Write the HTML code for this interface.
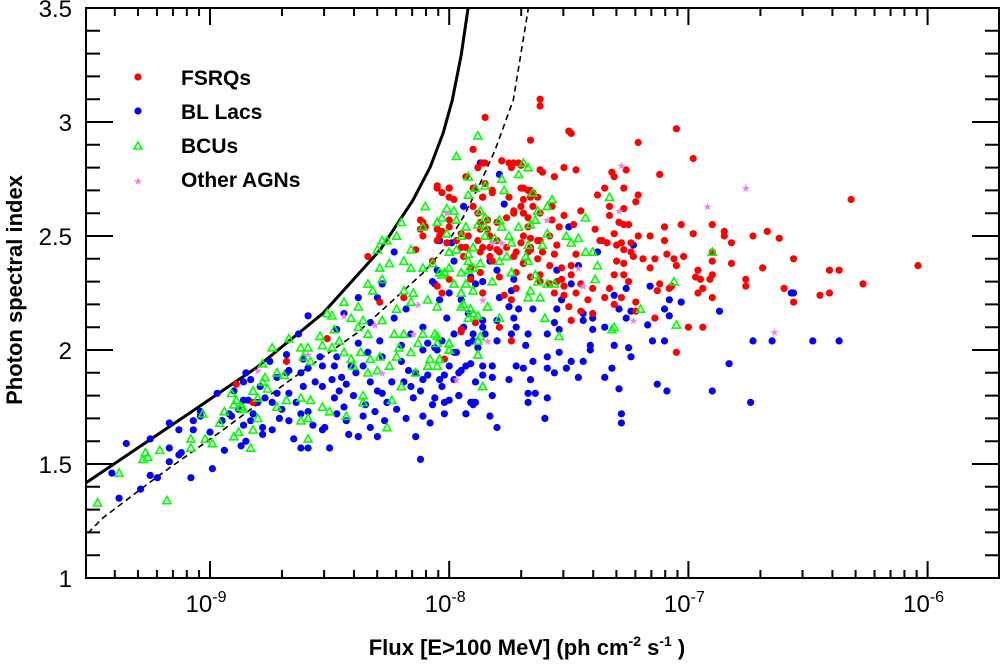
<!DOCTYPE html>
<html><head><meta charset="utf-8"><style>
html,body{margin:0;padding:0;background:#fff;}
svg{display:block;font-family:"Liberation Sans",Arial,sans-serif;}
</style></head><body>
<svg id="chart" width="1000" height="665" viewBox="0 0 1000 665" xmlns="http://www.w3.org/2000/svg">
<g id="curves"></g>
<g id="points"></g>
<g id="axes"></g>
<g id="legend">
  <circle cx="138" cy="77" r="3.6" fill="#ff0000"/>
  <text x="181" y="85" font-size="21" font-weight="bold">FSRQs</text>
  <circle cx="138" cy="111" r="3.6" fill="#0000ff"/>
  <text x="181" y="119" font-size="21" font-weight="bold">BL Lacs</text>
  <polygon points="138,142 142,149 134,149" fill="none" stroke="#00ff00" stroke-width="1.6"/>
  <text x="181" y="153" font-size="21" font-weight="bold">BCUs</text>
  <text x="138" y="185" font-size="11" fill="#ee82ee" text-anchor="middle">★</text>
  <text x="181" y="187" font-size="21" font-weight="bold">Other AGNs</text>
</g>
<text x="0" y="0" transform="translate(22,290) rotate(-90)" font-size="22" font-weight="bold" text-anchor="middle">Photon spectral index</text>
<text x="527" y="655" font-size="22" font-weight="bold" text-anchor="middle">Flux [E&gt;100 MeV] (ph cm<tspan dy="-9" font-size="14">-2</tspan><tspan dy="9"> s</tspan><tspan dy="-9" font-size="14">-1</tspan><tspan dy="9"> )</tspan></text>
</svg>
<script>
// data: [log10 flux, photon index]
const fsrqData=[[-7.62,3.10],[-7.62,3.07],[-7.85,3.02],[-7.05,2.97],[-7.50,2.96],[-7.49,2.95],[-7.66,2.92],[-7.21,2.91],[-7.90,2.88],[-6.98,2.84],[-7.12,2.77],[-7.26,2.79],[-7.32,2.78],[-7.31,2.76],[-6.56,2.40],[-6.41,2.35],[-6.41,2.25],[-6.60,2.27],[-6.56,2.21],[-6.69,2.36],[-6.73,2.50],[-6.85,2.52],[-6.85,2.50],[-6.82,2.47],[-6.82,2.38],[-6.76,2.31],[-6.76,2.28],[-6.90,2.55],[-6.90,2.43],[-6.90,2.39],[-6.90,2.33],[-7.00,2.10],[-6.94,2.10],[-7.05,1.99],[-7.14,2.14],[-6.98,2.51],[-7.03,2.55],[-7.10,2.54],[-7.10,2.48],[-7.16,2.50],[-7.16,2.36],[-7.09,2.42],[-7.05,2.37],[-7.02,2.41],[-6.96,2.35],[-6.97,2.32],[-6.95,2.31],[-6.91,2.31],[-6.96,2.25],[-6.94,2.27],[-6.90,2.23],[-7.12,2.29],[-7.08,2.27],[-7.07,2.28],[-7.13,2.26],[-7.21,2.50],[-7.23,2.41],[-7.19,2.40],[-7.14,2.40],[-7.06,2.40],[-7.21,2.68],[-7.22,2.65],[-7.27,2.62],[-7.27,2.71],[-7.35,2.71],[-7.38,2.68],[-7.33,2.63],[-7.33,2.59],[-7.29,2.56],[-7.27,2.55],[-7.25,2.55],[-7.31,2.51],[-7.28,2.47],[-7.27,2.44],[-7.30,2.39],[-7.27,2.38],[-7.31,2.33],[-7.27,2.33],[-7.25,2.30],[-7.24,2.43],[-7.33,2.27],[-7.31,2.20],[-7.35,2.23],[-7.28,2.23],[-7.22,2.21],[-7.22,2.17],[-7.47,2.79],[-7.52,2.80],[-7.56,2.76],[-7.62,2.79],[-7.52,2.59],[-7.48,2.55],[-7.45,2.61],[-7.39,2.53],[-7.37,2.48],[-7.36,2.48],[-7.34,2.47],[-7.30,2.46],[-7.24,2.47],[-7.47,2.42],[-7.49,2.37],[-7.49,2.33],[-7.45,2.29],[-7.40,2.27],[-7.42,2.22],[-7.40,2.16],[-7.45,2.17],[-7.49,2.13],[-7.50,2.19],[-7.47,2.25],[-7.52,2.24],[-7.56,2.25],[-7.52,2.28],[-7.57,2.63],[-7.62,2.60],[-7.57,2.57],[-7.54,2.54],[-7.58,2.50],[-7.62,2.48],[-7.55,2.46],[-7.61,2.43],[-7.58,2.37],[-7.56,2.42],[-7.53,2.36],[-7.62,2.33],[-7.53,2.31],[-7.55,2.30],[-7.62,2.30],[-7.58,2.29],[-7.75,2.82],[-7.70,2.81],[-7.78,2.83],[-7.69,2.71],[-7.66,2.70],[-7.66,2.67],[-7.70,2.63],[-7.73,2.60],[-7.76,2.58],[-7.67,2.54],[-7.66,2.49],[-7.69,2.50],[-7.72,2.43],[-7.66,2.44],[-7.63,2.40],[-7.69,2.38],[-7.66,2.32],[-7.72,2.34],[-7.74,2.22],[-7.74,2.04],[-7.79,2.10],[-7.77,2.24],[-7.72,2.27],[-7.85,2.82],[-7.88,2.80],[-7.85,2.73],[-7.82,2.70],[-7.86,2.67],[-7.90,2.63],[-7.88,2.60],[-7.84,2.57],[-7.87,2.53],[-7.83,2.50],[-7.86,2.45],[-7.80,2.44],[-7.82,2.39],[-7.87,2.34],[-7.79,2.32],[-7.86,2.25],[-7.91,2.31],[-8.00,2.31],[-8.03,2.25],[-8.05,2.28],[-8.05,2.71],[-8.00,2.71],[-7.98,2.66],[-7.93,2.76],[-7.92,2.50],[-7.95,2.45],[-8.03,2.52],[-8.05,2.48],[-8.07,2.39],[-7.94,2.41],[-7.91,2.36],[-7.95,2.09],[-8.11,2.56],[-8.12,2.53],[-8.05,2.53],[-8.00,2.57],[-8.00,2.67],[-8.03,2.69],[-7.61,2.78],[-8.34,2.41],[-7.71,2.82],[-8.68,1.95],[-8.82,1.77],[-8.89,1.85],[-8.51,2.05],[-8.29,2.21],[-7.95,2.08],[-7.89,2.12],[-8.02,1.96],[-8.14,2.44],[-8.19,2.23],[-6.04,2.37],[-6.32,2.66],[-6.37,2.35],[-6.27,2.29],[-6.45,2.24],[-6.62,2.49],[-6.67,2.52],
[-7.86,2.82],[-7.78,2.83],[-7.74,2.80],[-7.73,2.82],[-8.05,2.72],[-8.00,2.71],[-7.90,2.71],[-7.86,2.67],[-7.82,2.69],[-7.70,2.71],[-7.67,2.70],[-7.65,2.69],[-7.75,2.67],[-7.69,2.66],[-7.63,2.67],[-8.12,2.57],[-8.10,2.54],[-8.11,2.50],[-8.04,2.50],[-8.01,2.47],[-7.97,2.48],[-7.93,2.45],[-7.88,2.48],[-7.83,2.45],[-7.80,2.48],[-7.76,2.45],[-7.70,2.47],[-7.66,2.45],[-7.63,2.48],[-7.87,2.43],[-7.83,2.41],[-7.79,2.43],[-7.73,2.41],[-7.67,2.43],[-7.73,2.61],[-7.69,2.60],[-7.67,2.58],[-7.65,2.63],[-7.87,2.56],[-7.84,2.53],[-7.80,2.56],[-8.00,2.54],[-7.95,2.51]];
const bllacData=[[-9.35,1.59],[-9.41,1.46],[-9.38,1.35],[-9.29,1.39],[-9.25,1.45],[-9.22,1.44],[-9.08,1.44],[-8.99,1.48],[-9.17,1.57],[-9.17,1.51],[-9.13,1.54],[-9.12,1.55],[-9.25,1.61],[-9.17,1.68],[-9.13,1.65],[-9.07,1.65],[-9.00,1.64],[-8.95,1.69],[-8.91,1.71],[-9.04,1.71],[-8.86,1.67],[-8.83,1.69],[-8.87,1.58],[-8.85,1.60],[-8.94,1.56],[-8.97,1.81],[-8.86,1.78],[-8.82,1.72],[-8.78,1.66],[-8.74,1.65],[-8.78,1.63],[-8.71,1.70],[-8.67,1.69],[-8.62,1.72],[-8.59,1.73],[-8.65,1.61],[-8.62,1.57],[-8.59,1.57],[-8.50,1.57],[-8.53,1.65],[-8.52,1.66],[-8.47,1.72],[-8.44,1.75],[-8.43,1.69],[-8.38,1.62],[-8.36,1.71],[-8.33,1.66],[-8.30,1.62],[-8.26,1.77],[-8.19,1.86],[-8.16,1.84],[-8.12,1.82],[-8.11,1.87],[-8.11,1.71],[-8.12,1.52],[-8.06,1.79],[-8.03,1.84],[-8.00,1.78],[-7.96,1.80],[-7.93,1.72],[-7.91,1.77],[-7.89,1.77],[-7.86,1.93],[-7.91,1.94],[-7.95,1.91],[-7.98,1.87],[-8.02,1.89],[-8.09,1.89],[-8.14,1.90],[-8.15,1.79],[-8.17,1.91],[-8.30,1.82],[-8.28,1.81],[-8.26,1.77],[-8.33,1.86],[-8.36,1.93],[-8.39,1.90],[-8.41,1.93],[-8.43,1.85],[-8.46,1.82],[-8.48,1.79],[-8.53,1.84],[-8.49,1.87],[-8.59,1.92],[-8.61,1.84],[-8.62,1.90],[-8.67,1.91],[-8.68,1.98],[-8.67,1.81],[-8.72,1.81],[-8.74,1.77],[-8.77,1.79],[-8.84,1.78],[-8.88,1.74],[-8.59,2.15],[-8.44,2.16],[-8.38,2.23],[-8.30,2.23],[-8.23,2.43],[-8.28,2.29],[-8.23,2.14],[-8.18,2.18],[-8.16,2.07],[-8.11,2.10],[-8.07,2.30],[-8.04,2.22],[-8.01,2.14],[-7.98,2.07],[-7.92,2.03],[-7.97,1.99],[-8.05,2.00],[-8.09,2.03],[-7.86,2.10],[-7.90,2.07],[-8.11,2.00],[-8.29,2.04],[-8.28,1.97],[-8.34,1.99],[-8.38,2.03],[-8.47,1.97],[-8.54,1.97],[-8.53,1.93],[-8.61,1.96],[-8.68,1.90],[-8.72,1.88],[-8.79,1.84],[-8.83,1.87],[-8.86,1.86],[-8.80,1.77],[-8.92,1.72],[-8.95,1.69],[-9.04,1.73],[-9.07,1.69],[-8.85,1.90],[-7.87,2.82],[-7.79,2.77],[-7.94,2.63],[-7.77,2.64],[-7.50,2.54],[-7.23,2.46],[-7.38,2.43],[-7.46,2.37],[-7.55,2.35],[-7.69,2.38],[-7.80,2.35],[-7.86,2.30],[-7.73,2.31],[-7.16,2.28],[-7.26,2.27],[-7.49,2.29],[-6.56,2.25],[-6.87,2.17],[-7.03,2.21],[-7.08,2.22],[-7.10,2.18],[-7.08,2.15],[-7.17,2.11],[-7.24,2.17],[-7.26,2.14],[-7.31,2.24],[-7.29,2.18],[-7.35,2.10],[-7.40,2.09],[-7.44,2.16],[-7.44,2.13],[-7.40,2.14],[-7.53,2.22],[-7.55,2.18],[-7.56,2.12],[-7.54,2.09],[-7.59,2.07],[-7.67,2.07],[-7.68,2.02],[-7.74,2.07],[-7.80,2.04],[-7.72,2.10],[-7.73,2.14],[-7.75,2.19],[-7.71,2.18],[-7.65,2.18],[-7.59,1.97],[-7.54,1.99],[-7.49,1.95],[-7.44,1.95],[-7.41,2.00],[-7.41,2.02],[-7.31,2.02],[-7.25,2.01],[-7.24,1.97],[-7.32,1.92],[-7.35,1.88],[-7.46,1.88],[-7.51,1.92],[-7.56,1.90],[-7.59,1.92],[-7.65,1.95],[-7.69,1.92],[-7.72,1.93],[-7.75,1.87],[-7.66,1.87],[-7.82,1.88],[-7.82,1.93],[-7.86,1.89],[-7.89,1.86],[-7.93,1.93],[-7.96,1.90],[-7.82,1.80],[-7.67,1.81],[-7.64,1.81],[-7.59,1.79],[-7.67,1.77],[-7.83,1.71],[-7.93,1.72],[-7.80,1.66],[-7.60,1.70],[-7.28,1.72],[-7.28,1.68],[-7.29,1.83],[-7.13,1.85],[-7.09,1.82],[-6.90,1.82],[-6.83,1.94],[-6.74,1.77],[-6.73,2.04],[-6.65,2.04],[-6.48,2.04],[-7.15,2.04],[-7.10,2.04],[-7.90,1.77],[-7.90,1.76],[-8.02,1.77],[-8.07,1.76],[-7.96,1.80],[-8.04,1.87],[-8.00,1.93],[-7.98,1.99],[-8.03,2.04],[-8.06,2.01],[-8.00,2.25],[-8.06,2.29],[-8.05,2.35],[-7.95,2.22],[-7.89,2.29],[-7.92,2.16],[-7.94,2.10],[-7.86,2.13],[-7.85,2.07],[-7.88,2.01],[-7.90,2.04],[-7.80,2.13],[-7.79,2.23],[-7.74,2.26],[-7.83,2.39],[-7.91,2.32],[-7.98,2.39],[-7.99,2.47],[-8.04,2.48],[-6.37,2.04],[-6.57,2.25],
[-8.45,1.88],[-8.40,1.80],[-8.35,1.76],[-8.31,1.73],[-8.22,1.74],[-8.18,1.70],[-8.24,1.86],[-8.20,1.95],[-8.48,1.93],[-8.56,1.86],[-8.64,1.77],[-8.70,1.74],[-8.57,1.67],[-8.42,1.63],[-8.27,1.69],[-8.14,1.62],[-8.08,1.68],[-8.02,1.72],[-8.20,2.02],[-8.33,2.12],[-8.47,2.09],[-8.63,2.07],[-8.75,1.95],[-8.90,1.82]];
const bcuData=[[-9.47,1.33],[-9.38,1.46],[-9.18,1.34],[-9.28,1.52],[-9.26,1.53],[-9.27,1.55],[-9.21,1.56],[-9.08,1.57],[-9.08,1.61],[-9.02,1.61],[-8.99,1.59],[-8.90,1.62],[-8.88,1.64],[-8.83,1.57],[-8.82,1.65],[-8.96,1.68],[-8.94,1.73],[-9.03,1.72],[-8.90,1.76],[-8.87,1.75],[-8.89,1.78],[-8.86,1.74],[-8.91,1.81],[-8.82,1.82],[-8.80,1.79],[-8.80,1.70],[-8.78,1.86],[-8.76,1.83],[-8.77,1.88],[-8.74,2.01],[-8.72,1.90],[-8.69,1.89],[-8.68,1.78],[-8.72,1.75],[-8.62,1.79],[-8.58,1.78],[-8.59,1.70],[-8.62,1.69],[-8.53,1.75],[-8.50,1.73],[-8.59,1.61],[-8.43,1.71],[-8.36,1.80],[-8.36,1.77],[-8.26,1.66],[-8.24,1.78],[-8.20,1.84],[-8.14,1.90],[-8.09,1.93],[-8.04,1.96],[-8.00,2.00],[-7.88,1.98],[-7.86,1.84],[-8.67,2.05],[-8.62,2.01],[-8.59,2.01],[-8.61,1.97],[-8.58,1.95],[-8.54,2.06],[-8.53,2.02],[-8.49,2.01],[-8.48,2.09],[-8.46,2.04],[-8.51,2.16],[-8.49,2.15],[-8.44,2.21],[-8.41,2.14],[-8.38,2.19],[-8.36,2.13],[-8.38,2.10],[-8.34,2.07],[-8.44,1.99],[-8.41,1.96],[-8.40,1.93],[-8.37,1.99],[-8.33,1.96],[-8.29,1.97],[-8.30,1.91],[-8.34,1.90],[-8.25,1.93],[-8.22,1.97],[-8.21,2.01],[-8.19,2.07],[-8.23,2.07],[-8.28,2.13],[-8.22,2.18],[-8.16,2.21],[-8.15,2.25],[-8.19,2.26],[-8.09,2.22],[-8.05,2.19],[-8.11,2.07],[-8.05,2.06],[-8.00,2.03],[-7.92,2.14],[-7.95,2.19],[-7.90,2.26],[-7.98,2.29],[-8.03,2.33],[-7.92,2.35],[-7.97,2.44],[-8.01,2.51],[-8.05,2.56],[-8.11,2.54],[-8.16,2.44],[-8.19,2.39],[-8.25,2.38],[-8.29,2.36],[-8.34,2.29],[-8.32,2.26],[-8.28,2.31],[-8.16,2.36],[-8.11,2.36],[-8.07,2.38],[-8.00,2.43],[-7.90,2.45],[-7.85,2.54],[-7.87,2.38],[-7.84,2.19],[-7.88,2.04],[-8.08,1.96],[-8.13,2.03],[-8.16,1.99],[-8.22,2.50],[-8.26,2.48],[-8.30,2.44],[-8.28,2.48],[-8.20,2.56],[-8.10,2.63],[-8.78,1.94],[-7.88,2.94],[-7.97,2.85],[-7.92,2.76],[-7.78,2.75],[-7.69,2.82],[-7.67,2.80],[-7.71,2.77],[-7.85,2.72],[-7.89,2.71],[-7.92,2.68],[-7.77,2.70],[-7.65,2.69],[-7.57,2.66],[-7.59,2.63],[-7.63,2.61],[-7.66,2.55],[-7.64,2.57],[-7.71,2.54],[-7.79,2.57],[-7.78,2.54],[-7.87,2.61],[-7.85,2.58],[-8.01,2.62],[-7.98,2.61],[-8.03,2.58],[-7.97,2.57],[-7.88,2.55],[-7.93,2.54],[-7.95,2.50],[-7.85,2.50],[-7.81,2.49],[-7.75,2.50],[-7.74,2.47],[-7.67,2.46],[-7.61,2.46],[-7.59,2.51],[-7.51,2.50],[-7.49,2.47],[-7.46,2.49],[-7.43,2.58],[-7.43,2.43],[-7.40,2.43],[-7.38,2.37],[-7.33,2.67],[-7.39,2.31],[-7.56,2.29],[-7.59,2.29],[-7.64,2.33],[-7.63,2.30],[-7.67,2.39],[-7.68,2.41],[-7.74,2.34],[-7.82,2.30],[-7.76,2.41],[-7.79,2.39],[-7.92,2.42],[-7.92,2.39],[-7.90,2.36],[-7.95,2.34],[-7.93,2.29],[-8.00,2.36],[-8.02,2.34],[-8.04,2.34],[-7.95,2.25],[-7.94,2.20],[-7.91,2.18],[-7.84,2.19],[-7.90,2.16],[-7.88,2.15],[-7.79,2.14],[-7.62,2.23],[-7.67,2.23],[-7.66,2.26],[-7.60,2.14],[-7.54,2.06],[-7.87,2.06],[-7.88,1.98],[-8.00,2.00],[-8.04,1.96],[-8.05,1.93],[-7.86,1.84],[-7.31,2.10],[-7.32,2.09],[-7.20,2.18],[-7.05,2.11],[-7.06,2.30],[-6.90,2.43],[-8.06,2.07],[-8.05,2.03],[-8.00,2.03]];
const otherData=[[-7.28,2.81],[-6.76,2.71],[-6.92,2.63],[-7.29,2.61],[-7.59,2.57],[-7.78,2.47],[-7.82,2.47],[-8.01,2.60],[-7.46,2.36],[-7.44,2.28],[-7.86,2.22],[-7.23,2.13],[-6.64,2.08],[-7.84,2.04],[-7.97,1.87],[-8.59,1.98],[-8.44,2.15],[-8.31,2.11],[-8.80,1.91],[-8.15,2.07],[-8.28,1.90],[-8.13,2.20]];
const solidCurve=[[-9.519,1.417],[-9.084,1.724],[-8.803,1.925],[-8.527,2.162],[-8.289,2.439],[-8.151,2.658],[-8.079,2.803],[-8.025,2.952],[-7.987,3.096],[-7.950,3.294],[-7.921,3.5]];
const dashedCurve=[[-9.51,1.197],[-9.448,1.263],[-9.222,1.443],[-8.946,1.649],[-8.665,1.868],[-8.385,2.075],[-8.109,2.338],[-8.025,2.439],[-7.941,2.583],[-7.870,2.732],[-7.808,2.877],[-7.732,3.096],[-7.669,3.5]];
const yTicks=[1,1.5,2,2.5,3,3.5];
const yTickLabels=["1","1.5","2","2.5","3","3.5"];
const xDecades=[-9,-8,-7,-6];

const NS="http://www.w3.org/2000/svg";
const L=86,R=999,T=8,B=578;
const X0=210,DEC=239.2;
function sx(lf){return X0+(lf+9)*DEC;}
function sy(v){return B-(v-1)*228;}
function mk(tag,attrs,parent){const e=document.createElementNS(NS,tag);for(const k in attrs)e.setAttribute(k,attrs[k]);parent.appendChild(e);return e;}

const curves=document.getElementById('curves');
function clipLine(pts){return pts.map(p=>sx(p[0]).toFixed(1)+','+sy(p[1]).toFixed(1)).join(' ');}
const cp=mk('clipPath',{id:'plotclip'},curves);
mk('rect',{x:L,y:T,width:R-L,height:B-T},cp);
const s=mk('polyline',{points:clipLine(solidCurve),fill:'none',stroke:'#000','stroke-width':3,'clip-path':'url(#plotclip)'},curves);


const d=mk('polyline',{points:clipLine(dashedCurve),fill:'none',stroke:'#000','stroke-width':1.6,'stroke-dasharray':'6,4','clip-path':'url(#plotclip)'},curves);



const pts=document.getElementById('points');
const gB=mk('g',{},pts);


bllacData.forEach(p=>{const c=mk('circle',{cx:sx(p[0]).toFixed(1),cy:sy(p[1]).toFixed(1),r:3.6,fill:'#0000ff'},gB);

});
const gR=mk('g',{},pts);


fsrqData.forEach(p=>{const c=mk('circle',{cx:sx(p[0]).toFixed(1),cy:sy(p[1]).toFixed(1),r:3.6,fill:'#ff0000'},gR);

});
const gG=mk('g',{},pts);


bcuData.forEach(p=>{const x=sx(p[0]),y=sy(p[1]);
const t=mk('polygon',{points:`${x.toFixed(1)},${(y-4).toFixed(1)} ${(x+4).toFixed(1)},${(y+3.2).toFixed(1)} ${(x-4).toFixed(1)},${(y+3.2).toFixed(1)}`,fill:'none',stroke:'#00ff00','stroke-width':1.6},gG);

});
const gO=mk('g',{},pts);


otherData.forEach(p=>{const x=sx(p[0]),y=sy(p[1]);
const t=mk('text',{x:x.toFixed(1),y:(y+4).toFixed(1),'font-size':11,fill:'#ee82ee','text-anchor':'middle'},gO);
t.textContent='★';

});

const ax=document.getElementById('axes');
const fr=mk('rect',{x:L,y:T,width:R-L,height:B-T,fill:'none',stroke:'#000','stroke-width':2},ax);


let tk='';
for(let i=0;i<=25;i++){const v=1+i*0.1;const y=sy(v);const major=(i%5===0);const len=major?27:14;
tk+=`M${L},${y}h${len}M${R},${y}h${-len}`;}
for(let dec=-10;dec<=-6;dec++){for(let m=1;m<=9;m++){const lf=dec+Math.log10(m);const x=sx(lf);if(x<L+1||x>R-1)continue;const len=m===1?17:8;
tk+=`M${x},${B}v${-len}M${x},${T}v${len}`;}}
const tp=mk('path',{d:tk,stroke:'#000','stroke-width':2,fill:'none'},ax);


yTicks.forEach((v,i)=>{const t=mk('text',{x:72,y:(sy(v)+9).toFixed(1),'font-size':24,'text-anchor':'end'},ax);
t.textContent=yTickLabels[i];

});
xDecades.forEach(dc=>{const x=sx(dc);const t=mk('text',{x:(x-4).toFixed(1),y:612,'font-size':24,'text-anchor':'middle'},ax);
t.textContent='10';
const sp=mk('tspan',{dy:-10,'font-size':16},t);sp.textContent=String(dc);

});
</script>
</body></html>
